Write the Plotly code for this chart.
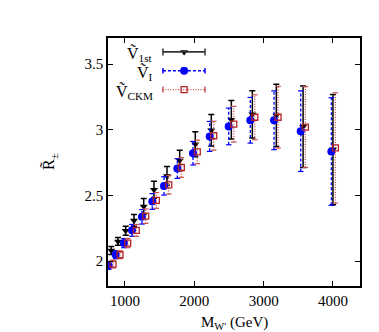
import plotly.graph_objects as go

# ---- data ----
mass_1st = [802, 899, 1010, 1130, 1270, 1418, 1606, 1789, 2014, 2245, 2534, 2837, 3183, 3569, 4000]
r_1st = [2.081, 2.150, 2.231, 2.310, 2.416, 2.543, 2.649, 2.766, 2.890, 2.997, 3.077, 3.118, 3.110, 3.024, 2.850]
err_1st = [0.03, 0.03, 0.035, 0.045, 0.06, 0.065, 0.072, 0.078, 0.095, 0.12, 0.146, 0.18, 0.237, 0.31, 0.42]

mass_I = [765, 866, 986, 1101, 1245, 1394, 1563, 1755, 1981, 2222, 2496, 2808, 3150, 3535, 3977]
r_I = [1.967, 2.048, 2.137, 2.234, 2.337, 2.454, 2.573, 2.705, 2.822, 2.950, 3.026, 3.073, 3.073, 2.990, 2.835]
err_I = [0.03, 0.03, 0.035, 0.045, 0.055, 0.06, 0.07, 0.075, 0.09, 0.114, 0.14, 0.174, 0.224, 0.307, 0.41]

mass_CKM = [827, 928, 1039, 1163, 1299, 1452, 1631, 1812, 2043, 2280, 2569, 2872, 3208, 3602, 4035]
r_CKM = [1.977, 2.048, 2.137, 2.234, 2.342, 2.462, 2.581, 2.713, 2.832, 2.955, 3.043, 3.096, 3.096, 3.021, 2.862]
err_CKM = [0.03, 0.03, 0.035, 0.045, 0.055, 0.06, 0.07, 0.075, 0.09, 0.11, 0.136, 0.171, 0.235, 0.308, 0.42]

x_tickvals = [1000, 2000, 3000, 4000]
x_ticktext = ["1000", "2000", "3000", "4000"]
y_tickvals = [2, 2.5, 3, 3.5]
y_ticktext = ["2", "2.5", "3", "3.5"]

labels = ["Ṽ<sub>1st</sub>", "Ṽ<sub>I</sub>", "Ṽ<sub>CKM</sub>"]

BLACK = "#000000"
BLUE = "#0000ff"
RED = "#b22222"
RED_BAR = "#c85050"
FONT = "Liberation Serif"

fig = go.Figure()


def bar_lines(xs, ys, es):
    bx, by = [], []
    for x, y, e in zip(xs, ys, es):
        bx += [x, x, None]
        by += [y - e, y + e, None]
    return bx, by


def caps(xs, ys, es):
    cx, cy = [], []
    for x, y, e in zip(xs, ys, es):
        cx += [x, x]
        cy += [y - e, y + e]
    return cx, cy


# black: solid error bars with caps
fig.add_trace(go.Scatter(
    x=mass_1st, y=r_1st, mode="markers",
    marker=dict(symbol="triangle-down", size=7, color=BLACK),
    error_y=dict(type="data", array=err_1st, visible=True, color=BLACK,
                 thickness=1.5, width=3),
    showlegend=False))

# blue & red: dashed / dotted bars drawn as lines plus cap markers
for xs, ys, es, col, barcol, dash, sym, msize, mline in [
    (mass_I, r_I, err_I, BLUE, BLUE, "3px,2px", "circle", 8, None),
    (mass_CKM, r_CKM, err_CKM, RED, RED_BAR, "1px,1.5px", "square-open", 6, 1.3),
]:
    bx, by = bar_lines(xs, ys, es)
    fig.add_trace(go.Scatter(x=bx, y=by, mode="lines",
                             line=dict(color=barcol, width=1.3, dash=dash),
                             showlegend=False, hoverinfo="skip"))
    cx, cy = caps(xs, ys, es)
    fig.add_trace(go.Scatter(x=cx, y=cy, mode="markers",
                             marker=dict(symbol="line-ew", size=4,
                                         line=dict(color=barcol, width=1.2)),
                             showlegend=False, hoverinfo="skip"))
    mk = dict(symbol=sym, size=msize, color=col)
    if mline:
        mk["line"] = dict(color=col, width=mline)
    fig.add_trace(go.Scatter(x=xs, y=ys, mode="markers", marker=mk,
                             showlegend=False))

# ---- manual legend (gnuplot style: label left, key right) ----
key_y = [0.944, 0.868, 0.792]
key_x0, key_x1, key_xm = 0.218, 0.385, 0.302
styles = [("#333333", BLACK, "solid", "triangle-down", 7, None, 1.8),
          (BLUE, BLUE, "3px,2px", "circle", 8, None, 1.5),
          (RED_BAR, RED, "1px,1.5px", "square-open", 6, 1.3, 1.3)]
for yk, lab, (lcol, col, dash, sym, msize, mline, lw) in zip(key_y, labels, styles):
    fig.add_shape(type="line", xref="paper", yref="paper",
                  x0=key_x0, x1=key_x1, y0=yk, y1=yk,
                  line=dict(color=lcol, width=lw, dash=dash))
    mk = dict(symbol=sym, size=msize, color=col)
    if mline:
        mk["line"] = dict(color=col, width=mline)
    fig.add_trace(go.Scatter(x=[key_xm], y=[yk], xaxis="x2", yaxis="y2",
                             mode="markers", marker=mk, showlegend=False,
                             hoverinfo="skip"))
    fig.add_trace(go.Scatter(x=[key_x0, key_x1], y=[yk, yk], xaxis="x2", yaxis="y2",
                             mode="markers",
                             marker=dict(symbol="line-ns", size=5 if lcol == "#333333" else 4,
                                         line=dict(color=lcol, width=1.5)),
                             showlegend=False, hoverinfo="skip"))
    fig.add_annotation(xref="paper", yref="paper", x=0.187, y=yk - 0.01,
                       xanchor="right", yanchor="middle", showarrow=False,
                       text=lab, font=dict(family=FONT, size=16, color=BLACK))

# axis titles
fig.add_annotation(xref="paper", yref="paper", x=-0.23, y=0.5,
                   textangle=-90, showarrow=False, xanchor="center", yanchor="middle",
                   text="R̃<sub>±</sub>", font=dict(family=FONT, size=16, color=BLACK))
fig.add_annotation(xref="paper", yref="paper", x=0.5, y=-0.15,
                   showarrow=False, xanchor="center", yanchor="middle",
                   text="M<sub>W'</sub> (GeV)", font=dict(family=FONT, size=15, color=BLACK))

axis_common = dict(showline=True, linecolor=BLACK, linewidth=1.5, mirror="ticks",
                   ticks="inside", ticklen=5, tickwidth=1, tickcolor=BLACK,
                   showgrid=False, zeroline=False,
                   tickfont=dict(family=FONT, size=15, color=BLACK))

fig.update_layout(
    width=379, height=332,
    margin=dict(l=100, r=27, t=30, b=54),
    paper_bgcolor="white", plot_bgcolor="white",
    xaxis=dict(range=[755, 4390], tickvals=x_tickvals, ticktext=x_ticktext, **axis_common),
    yaxis=dict(range=[1.81, 3.70], tickvals=y_tickvals, ticktext=y_ticktext, **axis_common),
    xaxis2=dict(overlaying="x", range=[0, 1], visible=False),
    yaxis2=dict(overlaying="y", range=[0, 1], visible=False),
    showlegend=False,
)

fig.write_html("out.html")
